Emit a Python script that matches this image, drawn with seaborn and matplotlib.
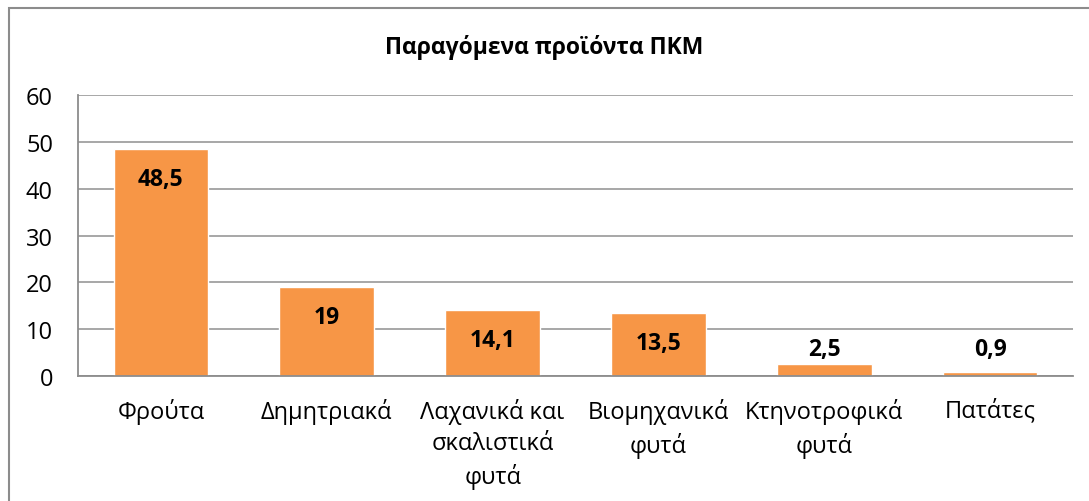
import matplotlib
matplotlib.use("Agg")
import matplotlib.pyplot as plt
import seaborn as sns
import pandas as pd
from matplotlib.patches import Rectangle

categories = ["Φρούτα", "Δημητριακά", "Λαχανικά και\nσκαλιστικά\nφυτά",
              "Βιομηχανικά\nφυτά", "Κτηνοτροφικά\nφυτά", "Πατάτες"]
values = [48.5, 19, 14.1, 13.5, 2.5, 0.9]
value_labels = ["48,5", "19", "14,1", "13,5", "2,5", "0,9"]
title = "Παραγόμενα προϊόντα ΠΚΜ"

sns.set_theme(style="white")
plt.rcParams['font.family'] = ['Open Sans', 'DejaVu Sans']
plt.rcParams['text.color'] = 'black'
plt.rcParams['xtick.color'] = 'black'
plt.rcParams['ytick.color'] = 'black'

df = pd.DataFrame({"cat": categories, "val": values})

fig = plt.figure(figsize=(10.89, 5.02), dpi=100)
ax = fig.add_axes([78/1089, 1-377/502, (1073-78)/1089, (377-96)/502])

sns.barplot(data=df, x="cat", y="val", color="#F79646", saturation=1,
            width=0.57, ax=ax)

ax.set_ylim(0, 60)
ax.set_yticks(range(0, 61, 10))
ax.set_xlim(-0.5, len(categories) - 0.5)
ax.yaxis.grid(True, color="#A0A0A0", linewidth=1.3)
ax.set_axisbelow(True)
for s in ["top", "right"]:
    ax.spines[s].set_visible(False)
ax.spines["left"].set_color("#8C8C8C")
ax.spines["bottom"].set_color("#8C8C8C")
ax.spines["left"].set_linewidth(1.3)
ax.spines["bottom"].set_linewidth(1.3)
ax.set_xlabel("")
ax.set_ylabel("")
ax.tick_params(axis="y", labelsize=17, length=0, pad=18, labelcolor="black")
ax.tick_params(axis="x", labelsize=17, length=0, pad=16, labelcolor="black")
for t in ax.get_xticklabels():
    t.set_linespacing(1.4)

for i, (v, lab) in enumerate(zip(values, value_labels)):
    if v > 8:
        ax.annotate(lab, (i, v), xytext=(0, -21.5), textcoords="offset points",
                    ha="center", va="center", fontsize=16.5, fontweight="bold",
                    color="black")
    else:
        ax.annotate(lab, (i, max(v, 2.5)), xytext=(0, 11), textcoords="offset points",
                    ha="center", va="center", fontsize=16.5, fontweight="bold",
                    color="black")

fig.text(0.5, 1-47/502, title, ha="center", va="center", fontsize=16.5,
         fontweight="bold", color="black")

fig.add_artist(Rectangle((9/1089, -0.1), 1.2, 1-9/502+0.1, transform=fig.transFigure,
                         fill=False, edgecolor="#8C8C8C", linewidth=1.5))

fig.savefig("out.png", dpi=100, facecolor="white")
